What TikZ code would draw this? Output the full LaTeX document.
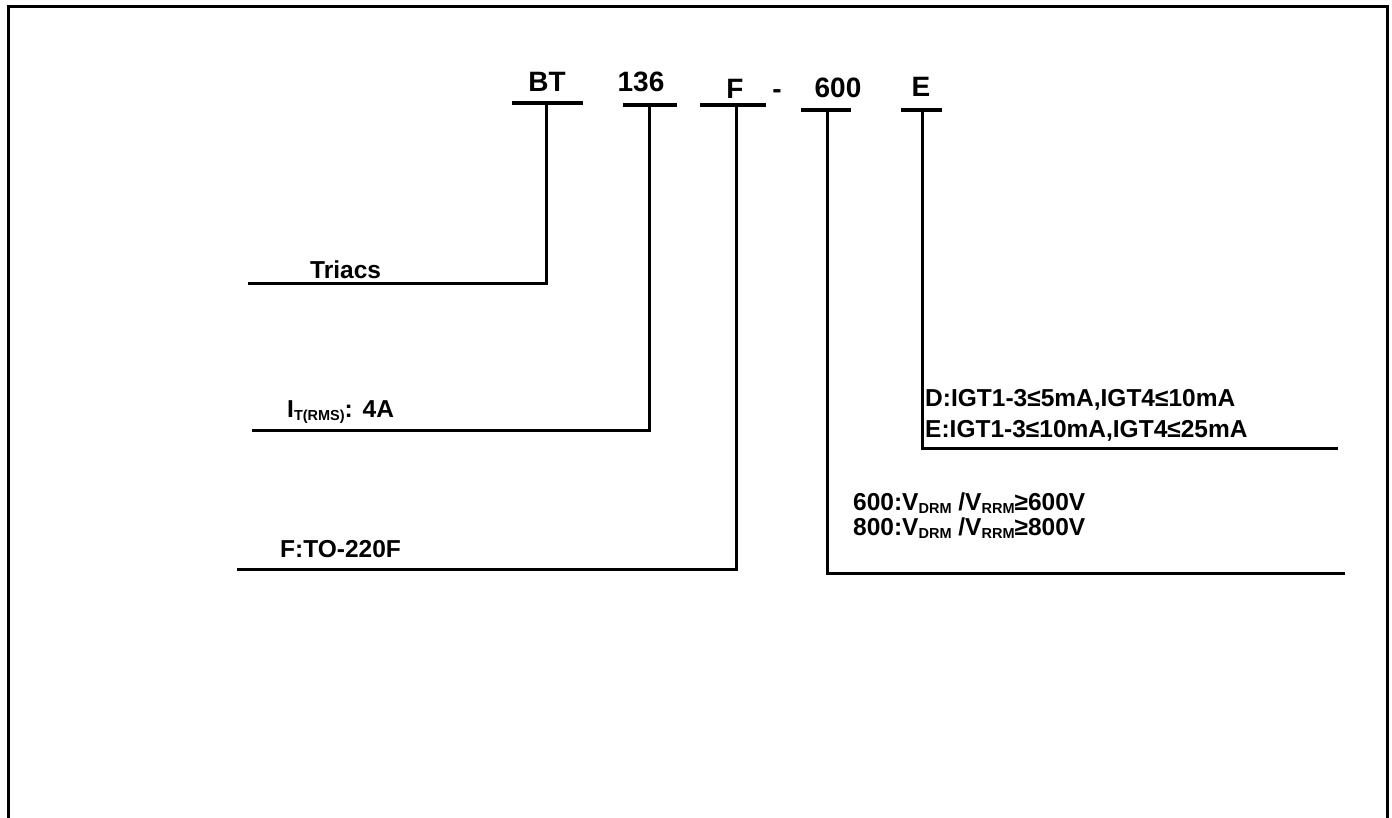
\documentclass[tikz,border=0pt]{standalone}
\usepackage{fontspec}
\setmainfont{Liberation Sans}
\newcommand{\lowsub}[1]{\raisebox{-0.25ex}{\fontsize{14.5}{15}\selectfont #1}}
\begin{document}
\begin{tikzpicture}[x=1pt,y=-1pt]
    \tikzset{frame line/.style={draw=black, line width=3pt},
        lead line/.style={draw=black, line width=3pt},
        code bar/.style={draw=black, line width=4pt},
        code label/.style={inner sep=0pt, anchor=base, font=\fontsize{28}{32}\selectfont\bfseries},
        note label/.style={inner sep=0pt, anchor=base west, font=\fontsize{24.5}{28}\selectfont\bfseries}}
    \useasboundingbox (0,0) rectangle (1392,818);

    % frame, open at the bottom
    \coordinate (frame-bl) at (8,818);
    \coordinate (frame-tr) at (1387,7);
    \coordinate (frame-br) at (1387,818);
    \draw[frame line] (frame-bl) |- (frame-tr) -- (frame-br);

    % part number
    \node[code label] (bt)   at (547,92) {BT};
    \node[code label] (i136) at (641,92) {136};
    \node[code label] (pkg)  at (735,99) {F};
    \node[code label] (dash) at (777,99) {-};
    \node[code label] (v600) at (838,98) {600};
    \node[code label] (gate) at (921,97) {E};

    \coordinate (bt-l) at (512,103);   \coordinate (bt-r) at (583,103);
    \coordinate (i136-l) at (623,105); \coordinate (i136-r) at (677,105);
    \coordinate (pkg-l) at (700,105);  \coordinate (pkg-r) at (766,105);
    \coordinate (v600-l) at (801,110); \coordinate (v600-r) at (851,110);
    \coordinate (gate-l) at (901,110); \coordinate (gate-r) at (942,110);
    \draw[code bar] (bt-l) -- (bt-r);
    \draw[code bar] (i136-l) -- (i136-r);
    \draw[code bar] (pkg-l) -- (pkg-r);
    \draw[code bar] (v600-l) -- (v600-r);
    \draw[code bar] (gate-l) -- (gate-r);

    % lead lines
    \coordinate (bt-tick) at (546,103);   \coordinate (bt-end) at (248,284);
    \coordinate (i136-tick) at (649,105); \coordinate (i136-end) at (252,430);
    \coordinate (pkg-tick) at (736,105);  \coordinate (pkg-end) at (237,569);
    \coordinate (v600-tick) at (827,110); \coordinate (v600-end) at (1345,573);
    \coordinate (gate-tick) at (922,110); \coordinate (gate-end) at (1338,448);
    \draw[lead line] (bt-tick) |- (bt-end);
    \draw[lead line] (i136-tick) |- (i136-end);
    \draw[lead line] (pkg-tick) |- (pkg-end);
    \draw[lead line] (v600-tick) |- (v600-end);
    \draw[lead line] (gate-tick) |- (gate-end);

    % meanings
    \node[note label] (triacs) at (310,279) {Triacs};
    \node[note label] (itrms) at (287,417) {I\lowsub{T(RMS)}:\hspace{0.4em}4A};
    \node[note label] (to220) at (280,557) {F:TO-220F};
    \node[note label] (igt-d) at (925,406) {D:IGT1-3≤5mA,IGT4≤10mA};
    \node[note label] (igt-e) at (925,437) {E:IGT1-3≤10mA,IGT4≤25mA};
    \node[note label] (vdrm6) at (853,510) {600:V\lowsub{DRM} /V\lowsub{RRM}≥600V};
    \node[note label] (vdrm8) at (853,535) {800:V\lowsub{DRM} /V\lowsub{RRM}≥800V};
\end{tikzpicture}
\end{document}
